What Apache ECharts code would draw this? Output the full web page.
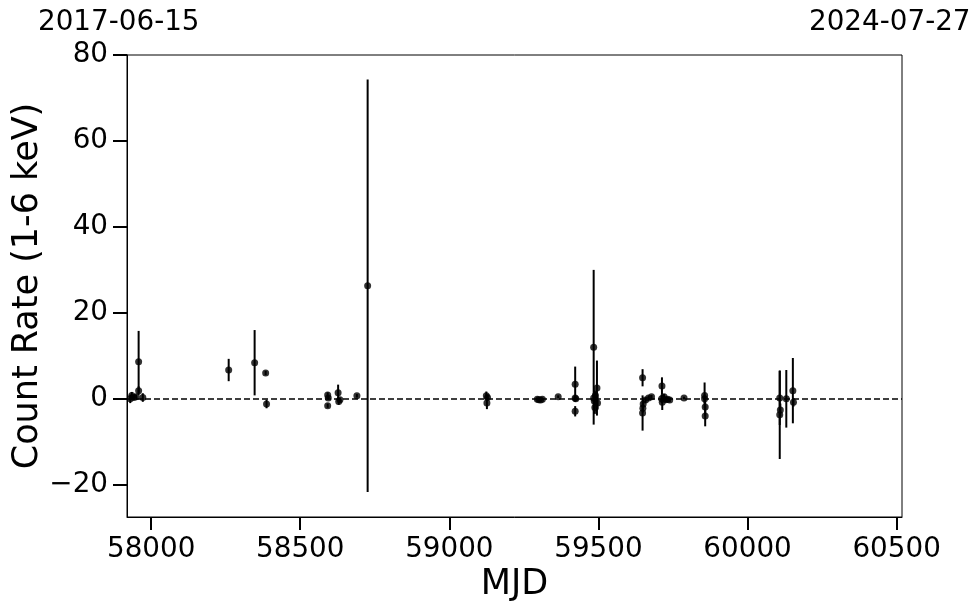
<!DOCTYPE html>
<html>
<head>
<meta charset="utf-8">
<script src="https://cdn.jsdelivr.net/npm/echarts@6/dist/echarts.min.js"></script>
<style>html,body{margin:0;padding:0;background:#fff;}#c{width:980px;height:613px;}</style>
</head>
<body>
<div id="c"></div>
<script>
const mjd = [57930,57935,57942,57950,57958,57958,57972,58260,58347,58384,58387,
  58592,58592,58594,58627,58629,58633,58690,58726,
  59124,59126,59128,59295,59300,59306,59312,59365,
  59422,59422,59424,59422,59484,59484,59486,59488,59490,59495,59497,
  59648,59648,59649,59650,59658,59668,59678,
  59713,59712,59714,59720,59726,59732,59739,59787,
  59856,59856,59858,59858,
  60108,60108,60110,60130,60152,60154];
const rate = [0.0,0.8,0.3,0.5,8.6,1.9,0.3,6.7,8.4,6.0,-1.2,
  0.9,-1.6,0.2,1.4,-0.6,-0.2,0.7,26.3,
  0.7,-1.0,0.3,-0.1,-0.2,-0.3,-0.1,0.5,
  3.4,0.2,0.0,-2.9,12.0,0.2,-0.5,-2.0,0.8,2.5,-1.0,
  4.9,-3.3,-2.2,-1.2,-0.3,0.2,0.5,
  3.0,0.0,-0.8,0.5,-0.2,-0.1,-0.3,0.2,
  0.8,0.0,-1.9,-4.0,
  0.2,-3.7,-2.6,0.0,1.9,-0.8];
const rateErr = [1.0,0.8,0.6,0.5,7.2,1.0,1.0,2.6,7.6,0.5,1.0,
  0.6,0.5,0.4,1.9,0.8,0.5,0.4,48.0,
  1.0,1.4,0.6,0.3,0.3,0.3,0.2,0.3,
  4.1,0.5,0.5,1.2,18.0,1.0,2.5,1.5,1.0,6.4,1.5,
  2.0,4.1,1.0,1.0,0.6,0.5,0.4,
  2.0,1.0,1.8,0.6,0.6,0.5,0.5,0.3,
  3.0,1.0,2.0,2.4,
  6.3,10.3,1.5,6.7,7.6,1.0];
const xTicks = [58000,58500,59000,59500,60000,60500];
const yTicks = [-20,0,20,40,60,80];
const dateLabels = ['2017-06-15','2024-07-27'];
const xRange = [57919, 60518];
const yRange = [-27.5, 80];

const pts = mjd.map((m,i)=>[m, rate[i], rateErr[i]]);
const FONT = 'DejaVu Sans';
const chart = echarts.init(document.getElementById('c'), null, {renderer:'canvas'});
chart.setOption({
  animation:false,
  backgroundColor:'#fff',
  grid:{left:127, right:78, top:55, bottom:96, containLabel:false, outerBoundsMode:'none',
    show:true, borderColor:'#000', borderWidth:1, backgroundColor:'transparent'},
  graphic:[
    {type:'text', left:38, top:9, style:{text:dateLabels[0], font:'27.8px "DejaVu Sans"', fill:'#000'}},
    {type:'text', left:809, top:9, style:{text:dateLabels[1], font:'27.8px "DejaVu Sans"', fill:'#000'}}
  ],
  xAxis:{type:'value', min:xRange[0], max:xRange[1], name:'MJD', nameLocation:'middle', nameGap:50,
    nameMoveOverlap:false,
    nameTextStyle:{fontFamily:FONT, fontSize:35, color:'#000'},
    axisLine:{show:true, onZero:false, lineStyle:{color:'#000', width:1}},
    axisTick:{show:true, length:13, lineStyle:{color:'#000', width:2}, customValues:xTicks},
    axisLabel:{fontFamily:FONT, fontSize:27.8, color:'#000', margin:19, customValues:xTicks,
      formatter:v=>String(v)},
    splitLine:{show:false}},
  yAxis:{type:'value', min:yRange[0], max:yRange[1], name:'Count Rate (1-6 keV)', nameLocation:'middle', nameGap:82,
    nameMoveOverlap:false,
    nameTextStyle:{fontFamily:FONT, fontSize:35, color:'#000'},
    axisLine:{show:true, onZero:false, lineStyle:{color:'#000', width:1}},
    axisTick:{show:true, length:14, lineStyle:{color:'#000', width:2}, customValues:yTicks},
    axisLabel:{fontFamily:FONT, fontSize:27.8, color:'#000', margin:19, customValues:yTicks,
      formatter:v=> v<0 ? '\u2212'+(-v) : String(v)},
    splitLine:{show:false}},
  series:[
    {type:'custom', data:pts, z:2, silent:true,
      renderItem:(params, api)=>{
        const x=api.value(0), y=api.value(1), e=api.value(2);
        const a=api.coord([x,y-e]), b=api.coord([x,y+e]);
        return {type:'line', shape:{x1:a[0],y1:a[1],x2:b[0],y2:b[1]}, style:{stroke:'#000', lineWidth:2}};
      },
      encode:{x:0,y:1}},
    {type:'scatter', data:pts.map(p=>[p[0],p[1]]), symbol:'circle', symbolSize:7, z:3, silent:true,
      itemStyle:{color:'#000'},
      markLine:{silent:true, symbol:'none', label:{show:false}, animation:false,
        lineStyle:{color:'#000', width:1.5, type:[6,3]}, data:[{yAxis:0}]}}
  ]
});
</script>
</body>
</html>
